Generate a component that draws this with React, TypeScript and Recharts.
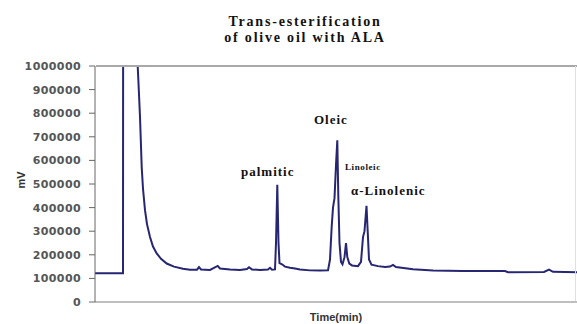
import React from 'react';
import { Line, LineChart, XAxis, YAxis } from 'recharts';

// retention time (arbitrary min) and detector signal (mV)
const times = [
  0, 2.8, 2.83, 2.86, 4.2, 4.27, 4.4, 4.5, 4.6, 4.67,
  4.8, 5.0, 5.2, 5.5, 5.8, 6.17, 6.6, 7.17, 7.9, 8.8,
  9.5, 10.2, 10.4, 10.6, 11.5, 12.27, 12.5, 13.5, 14.5, 15.2,
  15.4, 15.7, 16.5, 17.3, 17.5, 17.7, 18.0, 18.1, 18.23, 18.35,
  18.45, 18.7, 19.0, 19.5, 20.0, 20.5, 21.5, 22.5, 23.3, 23.5,
  23.67, 23.8, 23.95, 24.1, 24.23, 24.33, 24.45, 24.6, 24.75, 24.95,
  25.1, 25.23, 25.43, 25.7, 26.3, 26.6, 26.8, 26.95, 27.15, 27.27,
  27.4, 27.65, 28.3, 29.0, 29.5, 29.8, 30.1, 31.8, 33.8, 36.8,
  41.0, 41.3, 44.9, 45.4, 45.8, 48.2,
];

const signal = [
  122000, 122000, 2500000, 2600000, 1300000, 1000000, 880000, 784000, 660000, 572000,
  480000, 389000, 330000, 275000, 235000, 206000, 183000, 163000, 150000, 141000,
  137000, 137000, 148000, 138000, 136000, 153000, 142000, 138000, 136000, 140000,
  147000, 138000, 136000, 138000, 145000, 137000, 138000, 250000, 497000, 250000,
  165000, 160000, 150000, 145000, 142000, 138000, 134000, 133000, 134000, 180000,
  320000, 400000, 440000, 580000, 685000, 450000, 250000, 170000, 160000, 190000,
  250000, 190000, 163000, 155000, 152000, 170000, 275000, 300000, 408000, 300000,
  180000, 158000, 152000, 148000, 150000, 157000, 148000, 139000, 134000, 131000,
  131000, 126000, 127000, 137000, 128000, 126000,
];

const yTicks = [0, 100000, 200000, 300000, 400000, 500000, 600000, 700000, 800000, 900000, 1000000];

const peakLabels = ['palmitic', 'Oleic', 'Linoleic', 'α-Linolenic'];

const data = times.map((t, i) => ({ t, mv: signal[i] }));

const serif = '"Liberation Serif", "Times New Roman", serif';

const App = () => {
  return (
    <div style={{ position: 'absolute', left: 0, top: 0, width: 577, height: 324, background: '#fff' }}>
      <LineChart width={577} height={324} data={data} margin={{ top: 66, right: 0, bottom: 0, left: 0 }}>
        <XAxis
          type='number'
          dataKey='t'
          domain={[0, 48.2]}
          tick={false}
          tickLine={false}
          height={22}
          axisLine={{ stroke: '#aaa', strokeWidth: 1.5 }}
        />
        <YAxis
          type='number'
          domain={[0, 1000000]}
          ticks={yTicks}
          allowDataOverflow
          interval={0}
          width={95}
          tickSize={6}
          tickMargin={8}
          axisLine={{ stroke: '#666' }}
          tickLine={{ stroke: '#666' }}
          tick={{ fill: '#555', fontSize: 11, fontWeight: 'bold', fontFamily: '"DejaVu Sans", sans-serif', letterSpacing: 0.4 }}
        />
        <Line
          type='linear'
          dataKey='mv'
          stroke='#262673'
          strokeWidth={2}
          dot={false}
          isAnimationActive={false}
        />
      </LineChart>

      {/* plot frame: top edge and faint right edge */}
      <div style={{ position: 'absolute', left: 96, top: 65, width: 481, height: 2, background: '#a8a8a8', zIndex: 5 }} />
      <div style={{ position: 'absolute', left: 575, top: 66, width: 1, height: 235, background: '#e0e0e0', zIndex: 5 }} />

      <div style={{ position: 'absolute', left: 205, top: 14, width: 200, textAlign: 'center', fontFamily: serif, fontWeight: 'bold', fontSize: 14, letterSpacing: 1.8, lineHeight: '16px', color: '#111' }}>
        Trans-esterification
        <br />
        of olive oil with ALA
      </div>

      <div style={{ position: 'absolute', left: 286, top: 311, width: 100, textAlign: 'center', fontFamily: '"Liberation Sans", Arial, sans-serif', fontWeight: 'bold', fontSize: 11, color: '#333' }}>
        Time(min)
      </div>

      <div style={{ position: 'absolute', left: 6, top: 173, width: 30, height: 14, textAlign: 'center', transform: 'rotate(-90deg)', fontFamily: '"Liberation Sans", Arial, sans-serif', fontWeight: 'bold', fontSize: 11, lineHeight: '14px', color: '#333' }}>
        mV
      </div>

      <div style={{ position: 'absolute', left: 241, top: 164, fontFamily: serif, fontWeight: 'bold', fontSize: 13, letterSpacing: 1, color: '#111' }}>
        {peakLabels[0]}
      </div>
      <div style={{ position: 'absolute', left: 314, top: 112, fontFamily: serif, fontWeight: 'bold', fontSize: 13, letterSpacing: 1, color: '#111' }}>
        {peakLabels[1]}
      </div>
      <div style={{ position: 'absolute', left: 345, top: 162, fontFamily: serif, fontWeight: 'bold', fontSize: 9, letterSpacing: 0.6, color: '#111' }}>
        {peakLabels[2]}
      </div>
      <div style={{ position: 'absolute', left: 351, top: 183, fontFamily: serif, fontWeight: 'bold', fontSize: 13, letterSpacing: 1, color: '#111' }}>
        {peakLabels[3]}
      </div>
    </div>
  );
};

export default App;
